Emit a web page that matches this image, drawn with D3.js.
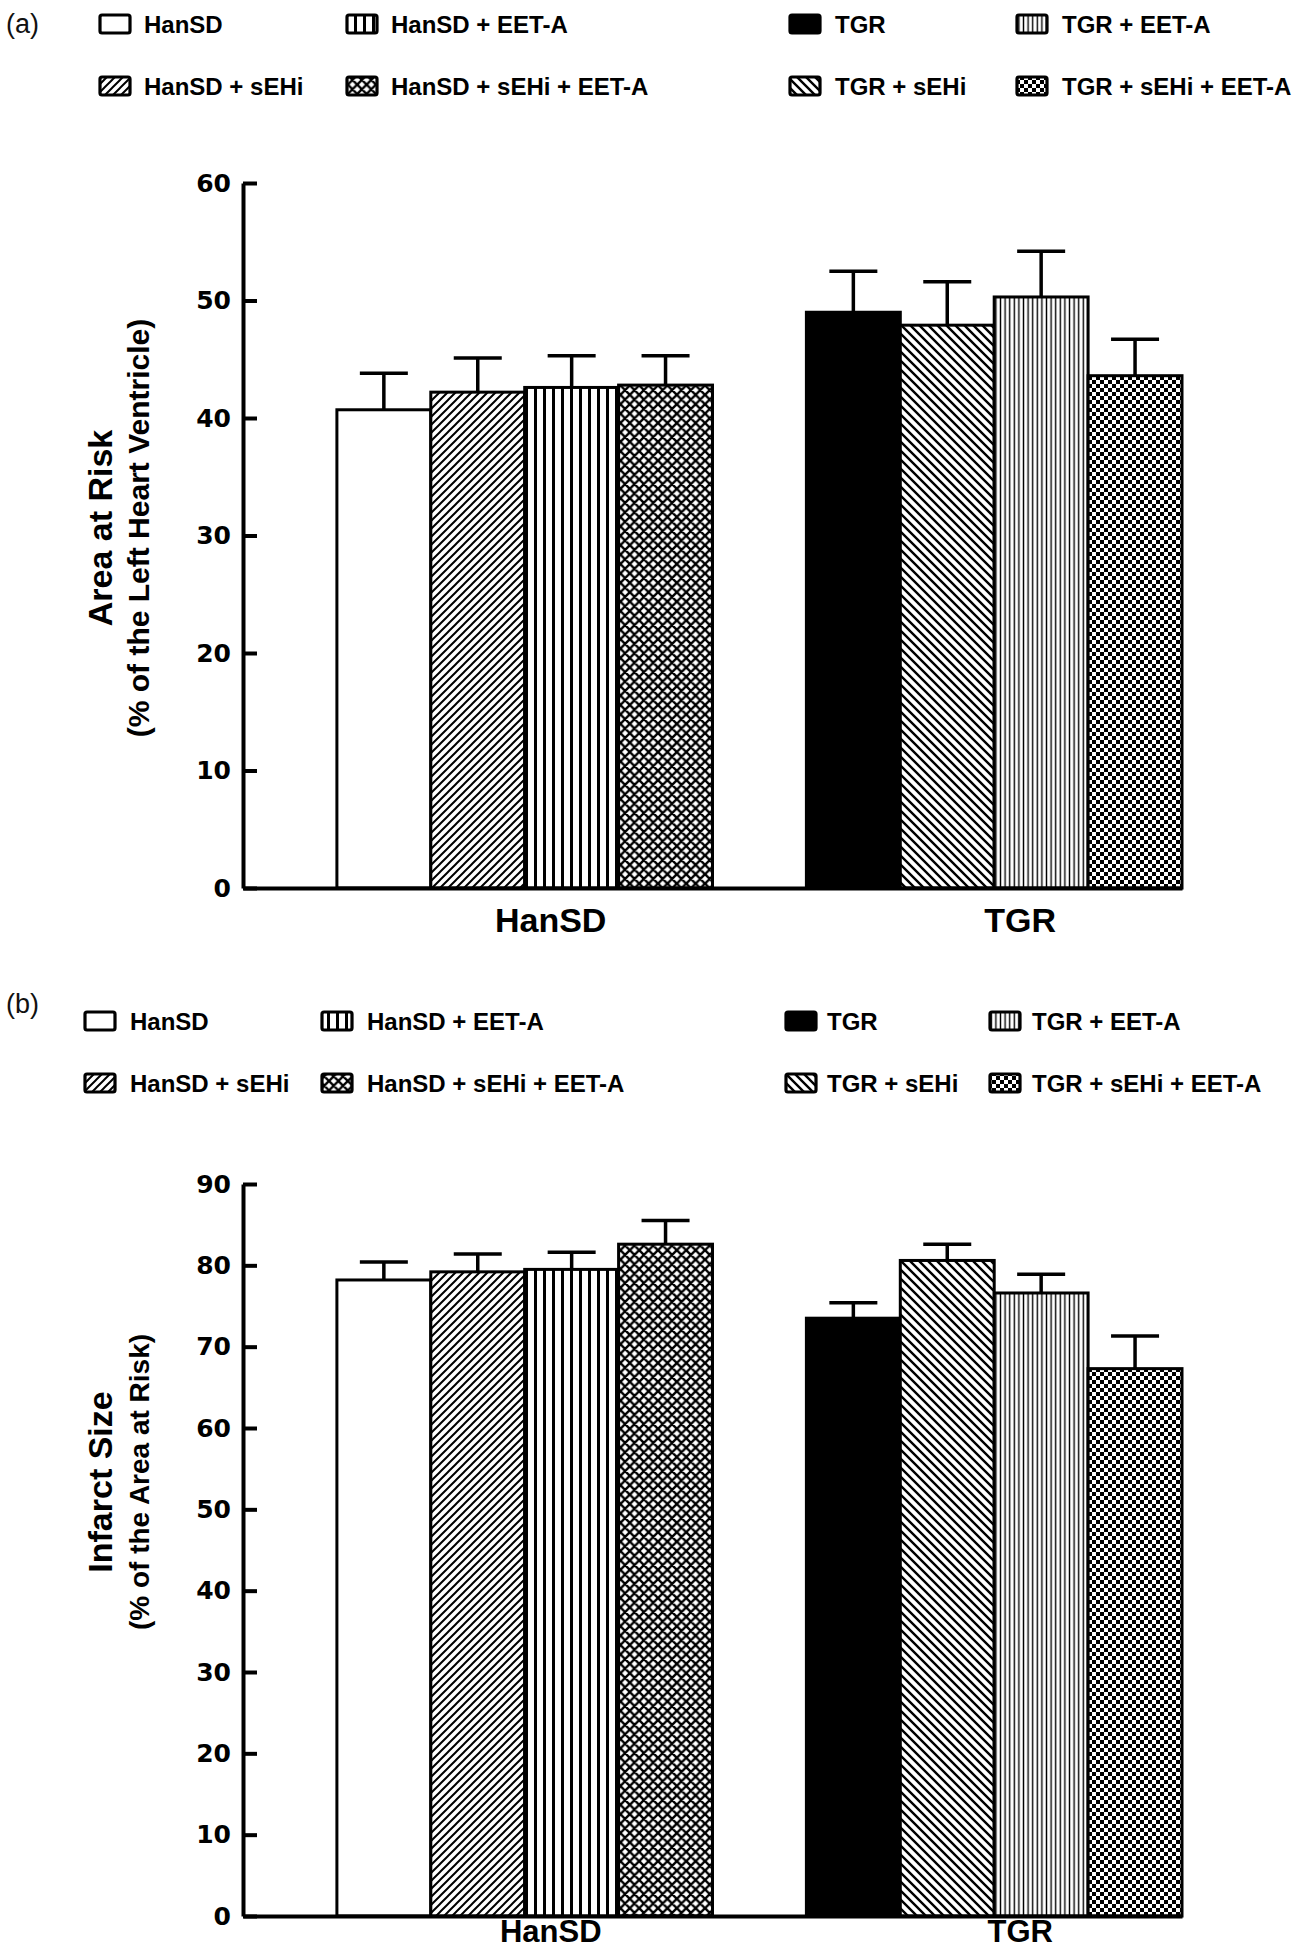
<!DOCTYPE html>
<html><head><meta charset="utf-8">
<script src="https://cdn.jsdelivr.net/npm/d3@7"></script>
<style>body{margin:0;background:#fff}</style>
</head><body><svg id="c" width="1301" height="1950"></svg>
<script>
// ---------- data ----------
const groups = ["HanSD", "TGR"];
const treatments = ["control", "sEHi", "EET-A", "sEHi + EET-A"];
const seriesNames = ["HanSD", "HanSD + sEHi", "HanSD + EET-A", "HanSD + sEHi + EET-A",
                     "TGR", "TGR + sEHi", "TGR + EET-A", "TGR + sEHi + EET-A"];
const legendOrder = [0, 2, 4, 6, 1, 3, 5, 7];
const areaAtRisk    = [40.7, 42.2, 42.6, 42.8, 49.0, 47.9, 50.3, 43.6];
const areaAtRiskSEM = [3.1, 2.9, 2.7, 2.5, 3.5, 3.7, 3.9, 3.1];
const infarctSize    = [78.2, 79.2, 79.5, 82.6, 73.5, 80.6, 76.6, 67.3];
const infarctSizeSEM = [2.2, 2.2, 2.1, 2.9, 1.9, 2.0, 2.3, 4.0];
const areaTicks = [0, 10, 20, 30, 40, 50, 60];
const infarctTicks = [0, 10, 20, 30, 40, 50, 60, 70, 80, 90];

const svg = d3.select("#c");
const defs = svg.append("defs");

// ---------- patterns ----------
function pat(id, w, h) {
  return defs.append("pattern").attr("id", id).attr("patternUnits", "userSpaceOnUse")
    .attr("width", w).attr("height", h);
}
// "/" diagonal
let p = pat("p1", 8, 8);
p.append("rect").attr("width", 8).attr("height", 8).attr("fill", "#fff");
p.append("path").attr("d", "M-1,1 L1,-1 M0,8 L8,0 M7,9 L9,7").attr("stroke", "#000").attr("stroke-width", 2);
// thick verticals
p = pat("p2", 9, 10);
p.append("rect").attr("width", 9).attr("height", 10).attr("fill", "#fff");
p.append("rect").attr("x", 3).attr("width", 3).attr("height", 10).attr("fill", "#000");
// crosshatch
p = pat("p3", 9.4, 9.4);
p.append("rect").attr("width", 9.4).attr("height", 9.4).attr("fill", "#fff");
p.append("path").attr("d", "M0,0 L9.4,9.4 M9.4,0 L0,9.4 M-1,8.4 L1,10.4 M8.4,-1 L10.4,1 M-1,1 L1,-1 M8.4,10.4 L10.4,8.4")
  .attr("stroke", "#000").attr("stroke-width", 2.4);
// "\" diagonal
p = pat("p5", 9, 9);
p.append("rect").attr("width", 9).attr("height", 9).attr("fill", "#fff");
p.append("path").attr("d", "M0,0 L9,9 M-1,8 L1,10 M8,-1 L10,1").attr("stroke", "#000").attr("stroke-width", 2.4);
// thin verticals
p = pat("p6", 4.6, 10);
p.append("rect").attr("width", 4.6).attr("height", 10).attr("fill", "#fff");
p.append("rect").attr("x", 1.6).attr("width", 1.4).attr("height", 10).attr("fill", "#000");
// checker
p = pat("p7", 8, 8);
p.append("rect").attr("width", 8).attr("height", 8).attr("fill", "#fff");
p.append("rect").attr("width", 4).attr("height", 4).attr("fill", "#000");
p.append("rect").attr("x", 4).attr("y", 4).attr("width", 4).attr("height", 4).attr("fill", "#000");

const fills = ["#fff", "url(#p1)", "url(#p2)", "url(#p3)", "#000", "url(#p5)", "url(#p6)", "url(#p7)"];

// ---------- x scales ----------
const xGroup = d3.scaleBand().domain(groups).range([243, 1182])
  .paddingInner(0.2).paddingOuter(0.1).align(1);
const xInner = d3.scaleBand().domain(treatments).range([0, xGroup.bandwidth()]).padding(0);

function drawPanel(cfg) {
  const g = svg.append("g");
  const y = d3.scaleLinear().domain([0, cfg.max]).range([cfg.y0, cfg.yTop]);

  // panel letter
  g.append("text").attr("x", 6).attr("y", cfg.letterY).text(cfg.letter)
    .attr("font-family", "Liberation Sans, Arial, sans-serif").attr("font-size", 27).attr("fill", "#111");

  // legend
  legendOrder.forEach((si, k) => {
    const row = Math.floor(k / 4), col = k % 4;
    const cy = cfg.legRows[row];
    g.append("rect").attr("x", cfg.legSwX[col]).attr("y", cy - 9).attr("width", 30).attr("height", 18)
      .attr("rx", 2).attr("fill", fills[si]).attr("stroke", "#000").attr("stroke-width", 3.2);
    g.append("text").attr("x", cfg.legTxX[col]).attr("y", cy + 8.5).text(seriesNames[si])
      .attr("font-family", "Liberation Sans, Arial, sans-serif").attr("font-weight", "bold")
      .attr("font-size", 24).attr("fill", "#000");
  });

  // bars
  const data = cfg.values.map((v, i) => ({
    i, v, s: cfg.sems[i], grp: groups[Math.floor(i / 4)], tr: treatments[i % 4]
  }));
  const bw = xInner.bandwidth();
  data.forEach(d => {
    const cx = xGroup(d.grp) + xInner(d.tr) + bw / 2;
    g.append("line").attr("x1", cx).attr("x2", cx).attr("y1", y(d.v)).attr("y2", y(d.v + d.s))
      .attr("stroke", "#000").attr("stroke-width", 3.5);
    g.append("line").attr("x1", cx - 24).attr("x2", cx + 24).attr("y1", y(d.v + d.s)).attr("y2", y(d.v + d.s))
      .attr("stroke", "#000").attr("stroke-width", 3.5);
  });
  g.selectAll("rect.bar").data(data).enter().append("rect").attr("class", "bar")
    .attr("x", d => xGroup(d.grp) + xInner(d.tr))
    .attr("width", bw)
    .attr("y", d => y(d.v))
    .attr("height", d => y(0) - y(d.v))
    .attr("fill", d => fills[d.i])
    .attr("stroke", "#000").attr("stroke-width", 3);

  // y axis
  const ya = g.append("g").attr("transform", `translate(${xGroup.range()[0]},0)`)
    .call(d3.axisLeft(y).tickValues(cfg.ticks).tickSizeInner(-14).tickSizeOuter(0).tickPadding(12));
  ya.select(".domain").attr("stroke", "#000").attr("stroke-width", 4);
  ya.selectAll(".tick line").attr("stroke", "#000").attr("stroke-width", 4);
  ya.selectAll(".tick text").attr("font-family", "DejaVu Sans, sans-serif").attr("font-weight", "bold")
    .attr("font-size", 25).attr("fill", "#000");

  // x axis
  const xa = g.append("g").attr("transform", `translate(0,${y(0)})`)
    .call(d3.axisBottom(xGroup).tickSize(0).tickSizeOuter(0).tickPadding(cfg.catPad));
  xa.select(".domain").attr("stroke", "#000").attr("stroke-width", 4);
  xa.selectAll(".tick text").attr("dx", 26).attr("font-family", "Liberation Sans, Arial, sans-serif")
    .attr("font-weight", "bold").attr("font-size", cfg.catSize).attr("fill", "#000");

  // y titles
  const t = g.append("text").attr("transform", `translate(0,${cfg.titleCY}) rotate(-90)`)
    .attr("text-anchor", "middle").attr("font-family", "Liberation Sans, Arial, sans-serif")
    .attr("font-weight", "bold").attr("fill", "#000");
  t.append("tspan").attr("x", 0).attr("y", 112).attr("font-size", 34).text(cfg.title1);
  t.append("tspan").attr("x", 0).attr("y", 149).attr("font-size", cfg.title2Size).text(cfg.title2);
}

drawPanel({
  values: areaAtRisk, sems: areaAtRiskSEM, ticks: areaTicks, max: 60, y0: 888, yTop: 183,
  letter: "(a)", letterY: 33, legRows: [24, 86],
  legSwX: [100, 347, 790, 1017], legTxX: [144, 391, 835, 1062],
  title1: "Area at Risk", title2: "(% of the Left Heart Ventricle)", title2Size: 30, titleCY: 528,
  catPad: 20, catSize: 34
});
drawPanel({
  values: infarctSize, sems: infarctSizeSEM, ticks: infarctTicks, max: 90, y0: 1916, yTop: 1184,
  letter: "(b)", letterY: 1013, legRows: [1021, 1083],
  legSwX: [85, 322, 786, 990], legTxX: [130, 367, 827, 1032],
  title1: "Infarct Size", title2: "(% of the Area at Risk)", title2Size: 28, titleCY: 1482,
  catPad: 4, catSize: 31
});
</script></body></html>
